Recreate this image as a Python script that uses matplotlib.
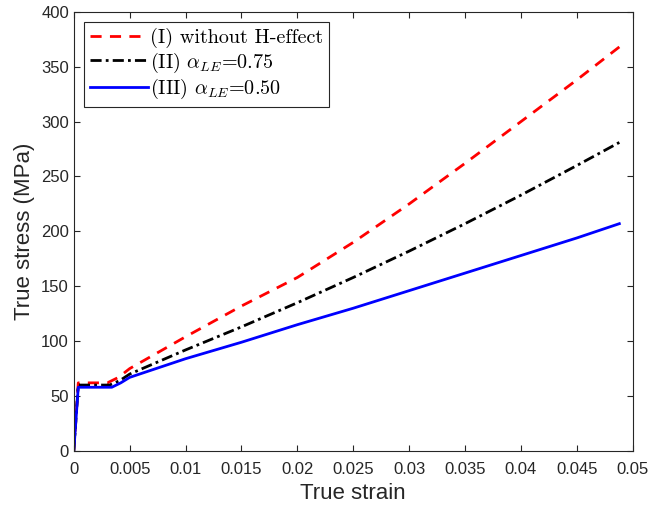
import matplotlib
matplotlib.use('Agg')
import matplotlib.pyplot as plt

# Daten
strain = [0, 0.0004, 0.003, 0.004, 0.005, 0.01, 0.015, 0.02, 0.025, 0.03, 0.035, 0.04, 0.045, 0.0488]
stress_no_h = [0, 62, 62, 67, 75, 104, 132, 158, 190, 225, 262, 300, 338, 368]
strain_075 = [0, 0.0004, 0.0032, 0.0041, 0.005, 0.01, 0.015, 0.02, 0.025, 0.03, 0.035, 0.04, 0.045, 0.0488]
stress_075 = [0, 60, 60, 64, 70, 92, 113, 135, 158, 182, 207, 233, 260, 281]
strain_050 = [0, 0.0004, 0.0034, 0.0042, 0.005, 0.01, 0.015, 0.02, 0.025, 0.03, 0.035, 0.04, 0.045, 0.0488]
stress_050 = [0, 58, 58, 62, 67, 84, 99, 115, 130, 146, 162, 178, 194, 207]

labels = ['(I) without H-effect', r'(II) $\alpha_{LE}$=0.75', r'(III) $\alpha_{LE}$=0.50']
xticks = [0, 0.005, 0.01, 0.015, 0.02, 0.025, 0.03, 0.035, 0.04, 0.045, 0.05]
xticklabels = ['0', '0.005', '0.01', '0.015', '0.02', '0.025', '0.03', '0.035', '0.04', '0.045', '0.05']

plt.rcParams['font.family'] = 'Liberation Sans'
plt.rcParams['mathtext.fontset'] = 'cm'

fig = plt.figure(figsize=(6.53, 5.13), dpi=100)
ax = fig.add_axes([0.113, 0.121, 0.856, 0.856])

ax.plot(strain, stress_no_h, color='#ff0000', linestyle=(0, (4, 3)), linewidth=2, label=labels[0])
ax.plot(strain_075, stress_075, color='black', linestyle=(0, (4, 1.5, 1, 1.5)), linewidth=2, label=labels[1])
ax.plot(strain_050, stress_050, color='#0000ff', linestyle='-', linewidth=2, label=labels[2])

ax.set_xlim(0, 0.05)
ax.set_ylim(0, 400)
ax.set_xticks(xticks)
ax.set_xticklabels(xticklabels)
ax.set_yticks(range(0, 401, 50))
ax.tick_params(direction='in', top=True, right=True, labelsize=12, colors='#262626', length=4)
ax.tick_params(axis='x', pad=8)
for s in ax.spines.values():
    s.set_color('#262626')
    s.set_linewidth(0.8)

ax.set_xlabel('True strain', fontsize=16, color='#262626')
ax.set_ylabel('True stress (MPa)', fontsize=16, color='#262626')

leg = ax.legend(loc='upper left', prop={'family': 'cmr10', 'size': 14.5}, fancybox=False,
                edgecolor='#262626', framealpha=1, handlelength=2.9, handletextpad=0.1,
                borderpad=0.3, labelspacing=0.12, borderaxespad=0.5)
leg.get_frame().set_linewidth(0.8)

fig.savefig('out.png', dpi=100)
